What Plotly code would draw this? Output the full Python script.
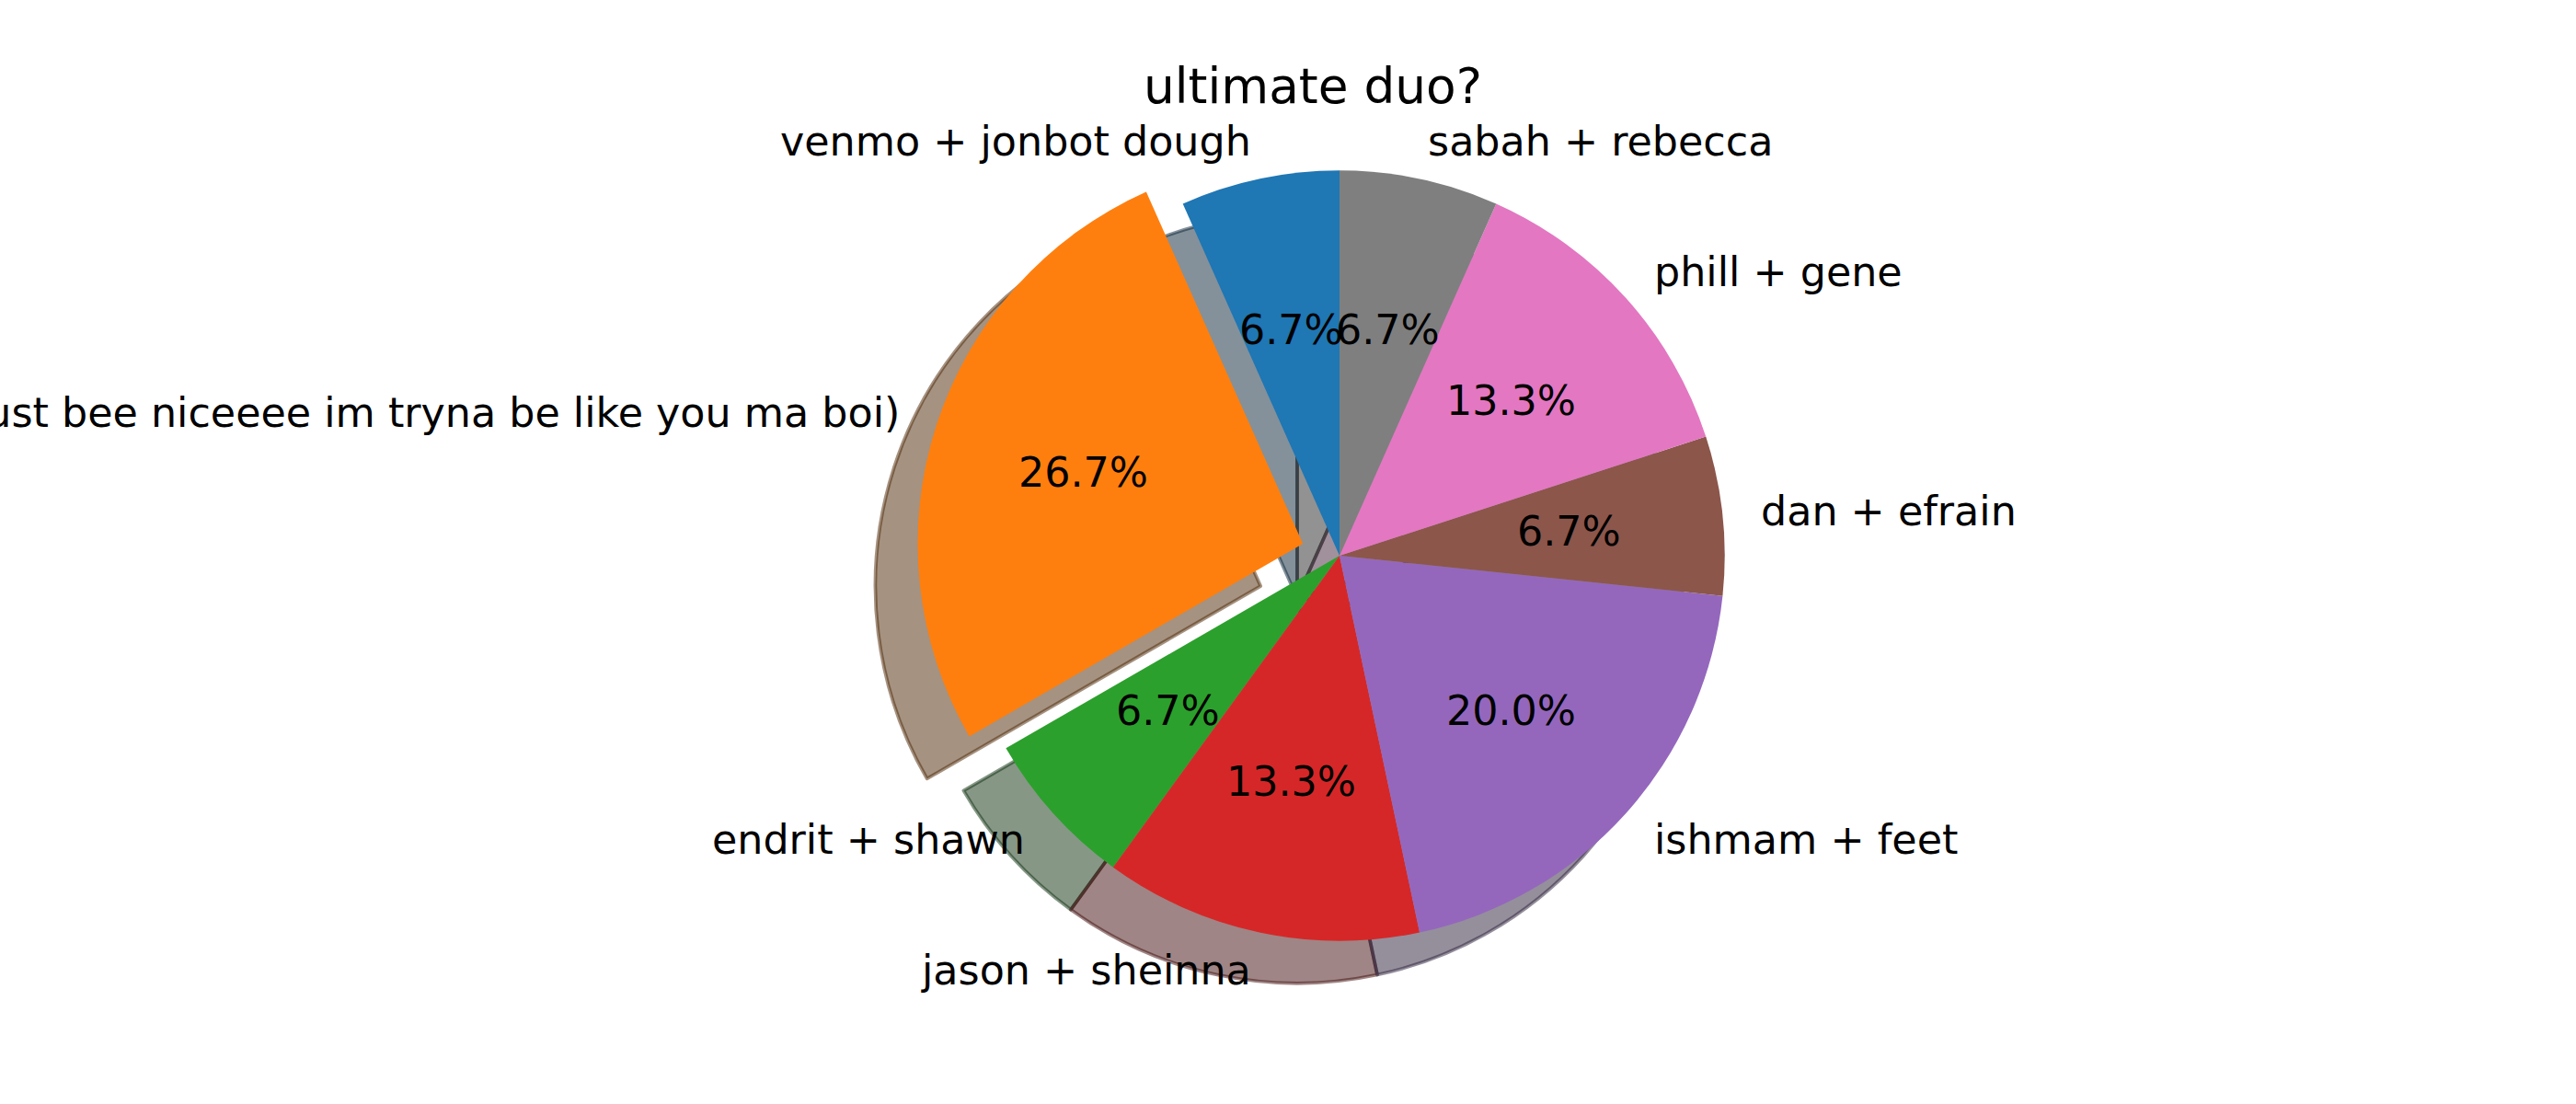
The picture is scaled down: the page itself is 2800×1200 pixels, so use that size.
import math
import plotly.graph_objects as go

# ---------------- data ----------------
duos = [
    "venmo + jonbot dough",
    "me + you (just bee niceeee im tryna be like you ma boi)",
    "endrit + shawn",
    "jason + sheinna",
    "ishmam + feet",
    "dan + efrain",
    "phill + gene",
    "sabah + rebecca",
]
votes = [1, 4, 1, 2, 3, 1, 2, 1]
explode = [0, 0.1, 0, 0, 0, 0, 0, 0]
title_text = "ultimate duo?"

# ---------------- style ----------------
colors = ["#1f77b4", "#ff7f0e", "#2ca02c", "#d62728",
          "#9467bd", "#8c564b", "#e377c2", "#7f7f7f"]
FONT = "DejaVu Sans"
W, H = 2800, 1200
CX, CY = 1456, 604          # pie centre (px)
R = 418.7                   # pie radius (px)
SH = 46                     # shadow offset (px)
maxpull = max(explode)
half = R * (1 + maxpull)

def hex2rgb(h):
    h = h.lstrip("#")
    return tuple(int(h[i:i + 2], 16) for i in (0, 2, 4))

shadow_cols = ["rgba(%d,%d,%d,0.5)" % tuple(round(0.3 * c) for c in hex2rgb(h)) for h in colors]

dom_x = [(CX - half) / W, (CX + half) / W]
dom_y = [1 - (CY + half) / H, 1 - (CY - half) / H]
sdom_x = [dom_x[0] - SH / W, dom_x[1] - SH / W]
sdom_y = [dom_y[0] - SH / H, dom_y[1] - SH / H]

total = sum(votes)
# plotly (ccw) ends the first slice at `rotation`; make it start at 12 o'clock
rot = -360.0 * votes[0] / total

fig = go.Figure()

# shadow
fig.add_trace(go.Pie(
    values=votes, labels=duos, sort=False, direction="counterclockwise",
    rotation=rot, pull=explode, textinfo="none", hoverinfo="skip",
    marker=dict(colors=shadow_cols, line=dict(color=shadow_cols, width=3.7)),
    domain=dict(x=sdom_x, y=sdom_y), showlegend=False,
))
# main pie
fig.add_trace(go.Pie(
    values=votes, labels=duos, sort=False, direction="counterclockwise",
    rotation=rot, pull=explode, textinfo="none",
    marker=dict(colors=colors, line=dict(width=0)),
    domain=dict(x=dom_x, y=dom_y), showlegend=False,
))

# angles derived from the data (matplotlib style: start 90deg, ccw)
cum = 0
mids = []
for v in votes:
    t1 = 90 + 360 * cum / total
    cum += v
    t2 = 90 + 360 * cum / total
    mids.append(math.radians((t1 + t2) / 2))

pct_x = [(e + 0.6) * math.cos(m) for e, m in zip(explode, mids)]
pct_y = [(e + 0.6) * math.sin(m) for e, m in zip(explode, mids)]
pct_txt = ["%1.1f%%" % (100 * v / total) for v in votes]

# invisible anchor trace so the cartesian (pie-radius = 1 unit) axes exist
fig.add_trace(go.Scatter(x=pct_x, y=pct_y, mode="none", hoverinfo="skip",
                         showlegend=False))

for t, x, y in zip(pct_txt, pct_x, pct_y):
    fig.add_annotation(
        x=x, y=y, xref="x", yref="y", text=t, showarrow=False,
        xanchor="center", yanchor="middle",
        font=dict(family=FONT, size=44.4, color="black"),
        borderpad=0, borderwidth=0,
    )

for lab, e, m in zip(duos, explode, mids):
    x = (e + 1.1) * math.cos(m)
    y = (e + 1.1) * math.sin(m)
    fig.add_annotation(
        x=x, y=y, xref="x", yref="y", text=lab, showarrow=False,
        xanchor="left" if x > 0 else "right", yanchor="middle",
        font=dict(family=FONT, size=44.4, color="black"),
        borderpad=0, borderwidth=0,
    )

fig.update_layout(
    width=W, height=H, autosize=False,
    margin=dict(l=0, r=0, t=0, b=0),
    paper_bgcolor="white", plot_bgcolor="rgba(0,0,0,0)",
    showlegend=False,
    title=dict(text=title_text, x=1427 / W, xanchor="center",
               y=1 - 93 / H, yanchor="middle", yref="container",
               font=dict(family=FONT, size=53.3, color="black")),
    xaxis=dict(domain=[0, 1], range=[-CX / R, (W - CX) / R],
               visible=False, fixedrange=True),
    yaxis=dict(domain=[0, 1], range=[-(H - CY) / R, CY / R],
               visible=False, fixedrange=True),
)

fig.write_html("out.html")
